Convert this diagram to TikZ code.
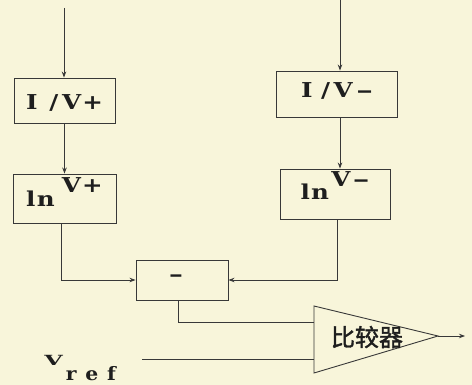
\documentclass[tikz,border=0pt]{standalone}
\usepackage{fontspec}
\usepackage{graphicx}
\usetikzlibrary{arrows.meta}
\newfontfamily\cjk[FakeBold=1.5]{Noto Sans CJK SC}
\newfontfamily\bx{DejaVu Serif}
\definecolor{bg}{HTML}{F8F5DA}
\definecolor{ln}{HTML}{383838}
\definecolor{tx}{HTML}{1E1E1E}
\newcommand{\wdash}{\scalebox{1.35}[1]{–}}
\begin{document}
\begin{tikzpicture}[x=1pt,y=-1pt,line width=0.9pt,
  blk/.style={draw=ln,inner sep=0pt,text=tx,font=\bx\bfseries\fontsize{20.5}{21}\selectfont},
  arr/.style={draw=ln,-{Stealth[length=6pt,width=4.5pt]}},
  wire/.style={draw=ln}]
\fill[bg] (0,0) rectangle (472,385);
\useasboundingbox (0,0) rectangle (472,385);
% boxes
\node[blk,minimum width=101,minimum height=45,text height=19pt,text depth=0pt] (ivp) at (64.5,100.5)
  {\scalebox{1.2}[1]{I\hspace{10pt}/\hspace{3pt}V\hspace{1pt}+}};
\node[blk,minimum width=103,minimum height=49,text height=17pt,text depth=0pt] (lnp) at (64.5,198.5)
  {\scalebox{1.2}[1]{l\hspace{1pt}n\hspace{6pt}\raisebox{14pt}{V\hspace{1pt}+}}};
\node[blk,minimum width=121,minimum height=46,text height=7pt,text depth=0pt] (ivm) at (337,94)
  {\scalebox{1.2}[1]{I\hspace{7pt}/\hspace{3pt}V\hspace{3pt}\wdash}};
\node[blk,minimum width=110,minimum height=50,text height=12pt,text depth=0pt] (lnm) at (335,194)
  {\scalebox{1.2}[1]{l\hspace{1pt}n\hspace{2pt}\raisebox{13pt}{V\hspace{2pt}\wdash}}};
\node[blk,minimum width=92,minimum height=40,text height=4pt,text depth=0pt] (minus) at (182,280)
  {\hspace{-12pt}\wdash};
% comparator
\coordinate (t1) at (314,306);
\coordinate (t2) at (314,373);
\coordinate (tip) at (438,336);
\draw[ln] (t1) -- (tip) -- (t2) -- cycle;
\node[text=tx,font=\cjk\fontsize{24}{24}\selectfont,inner sep=0pt] (cmp) at (367,337) {比较器};
\coordinate (in1) at (314,322);
\coordinate (in2) at (314,359);
\coordinate (out) at (465,336);
% input lines
\coordinate (inL) at (64,8);
\coordinate (inR) at (340,0);
\draw[arr] (inL) -- (inL |- ivp.north);
\draw[arr] (ivp) -- (lnp);
\draw[arr] (inR) -- (inR |- ivm.north);
\draw[arr] (ivm.south -| inR) -- (lnm.north -| inR);
\draw[arr] ([xshift=-3.5pt]lnp.south) |- (minus.west);
\draw[arr] ([xshift=2pt]lnm.south) |- (minus.east);
\draw[wire] ([xshift=-4pt]minus.south) |- (in1);
\draw[arr] (tip) -- (out);
% Vref
\node[anchor=base west,inner sep=0pt,text=tx,font=\bx\bfseries] (vref) at (44,365)
  {\scalebox{1.7}[1]{\fontsize{14}{14}\selectfont V}\hspace{3pt}\raisebox{-16pt}{\fontsize{18.5}{19}\selectfont\scalebox{1.1}[1]{r\hspace{8pt}e\hspace{8pt}f}}};
\coordinate (vr) at (142,359);
\draw[wire] (vr) -- (in2);
\end{tikzpicture}
\end{document}
